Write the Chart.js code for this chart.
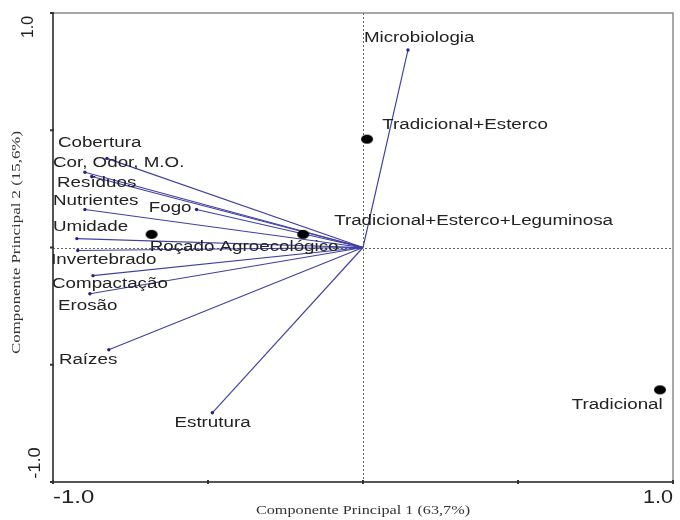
<!DOCTYPE html>
<html><head><meta charset="utf-8">
<script src="https://cdn.jsdelivr.net/npm/chart.js@4"></script>
<style>html,body{margin:0;padding:0;background:#fff}canvas{display:block}</style>
</head><body>
<canvas id="c" width="680" height="520"></canvas>
<script>
// Variable loadings (arrow tips)
const variableNames = ['Microbiologia','Cobertura','Cor, Odor, M.O.','Resíduos','Nutrientes','Fogo','Umidade','Invertebrado','Compactação','Erosão','Raízes','Estrutura'];
const loadingX = [0.145, -0.826, -0.897, -0.875, -0.897, -0.537, -0.923, -0.920, -0.871, -0.881, -0.820, -0.486];
const loadingY = [0.842, 0.380, 0.321, 0.303, 0.162, 0.162, 0.038, -0.013, -0.120, -0.197, -0.436, -0.705];

// Treatment scores (black dots)
const scoreX = [0.013, -0.682, -0.193, 0.958];
const scoreY = [0.462, 0.056, 0.056, -0.607];

// Text annotations (anchor in data units, left edge / middle)
const labelTexts = ['Microbiologia','Tradicional+Esterco','Tradicional+Esterco+Leguminosa','Roçado Agroecológico','Tradicional','Cobertura','Cor, Odor, M.O.','Resíduos','Nutrientes','Fogo','Umidade','Invertebrado','Compactação','Erosão','Raízes','Estrutura'];
const labelX = [0.003, 0.062, -0.093, -0.688, 0.673, -0.984, -1.0, -0.987, -1.0, -0.691, -1.0, -1.006, -1.003, -0.984, -0.981, -0.608];
const labelY = [0.893, 0.521, 0.111, 0.000, -0.671, 0.444, 0.359, 0.273, 0.197, 0.167, 0.085, -0.056, -0.158, -0.252, -0.479, -0.748];

// Axes
const xTickValues = [-1, -0.5, 0, 0.5, 1];
const yTickValues = [-1, -0.5, 0, 0.5, 1];
const xTickLabels = ['-1.0', '1.0'];
const yTickLabels = ['-1.0', '1.0'];
const xTitle = 'Componente Principal 1 (63,7%)';
const yTitle = 'Componente Principal 2 (15,6%)';

const LINE = '#4040a2';

// ellipse dot image for treatment points
const dot = document.createElement('canvas');
dot.width = 14; dot.height = 11;
(function(){const g=dot.getContext('2d');g.fillStyle='#000';g.beginPath();g.ellipse(7,5.5,6,4.6,0,0,Math.PI*2);g.fill();})();

const datasets = [];
variableNames.forEach((n,i)=>{
  datasets.push({
    label: n,
    data: [{x:0,y:0},{x:loadingX[i],y:loadingY[i]}],
    showLine: true,
    borderColor: LINE,
    borderWidth: 1.15,
    pointRadius: [0, 1.7],
    pointBackgroundColor: '#22228a',
    pointBorderWidth: 0,
    order: 2
  });
});
datasets.push({
  label: 'Tratamentos',
  data: scoreX.map((x,i)=>({x, y: scoreY[i]})),
  showLine: false,
  pointStyle: dot,
  pointRadius: 6,
  order: 1
});

function stretchText(ctx, txt, px, py, font, sx, align, rot) {
  ctx.save();
  ctx.translate(px, py);
  if (rot) ctx.rotate(rot);
  ctx.scale(sx, 1);
  ctx.font = font;
  ctx.textAlign = align;
  ctx.textBaseline = 'middle';
  ctx.fillText(txt, 0, 0);
  ctx.restore();
}

const framePlugin = {
  id: 'frame',
  beforeDatasetsDraw(chart) {
    const {ctx, chartArea: a, scales: {x, y}} = chart;
    ctx.save();
    ctx.strokeStyle = '#666';
    ctx.lineWidth = 1;
    ctx.setLineDash([2, 2]);
    const x0 = Math.round(x.getPixelForValue(0)) + 0.5;
    const y0 = Math.round(y.getPixelForValue(0)) + 0.5;
    ctx.beginPath();
    ctx.moveTo(x0, a.top); ctx.lineTo(x0, a.bottom);
    ctx.moveTo(a.left, y0); ctx.lineTo(a.right, y0);
    ctx.stroke();
    ctx.restore();
  },
  afterDatasetsDraw(chart) {
    const {ctx, chartArea: a, scales: {x, y}} = chart;
    ctx.save();
    // top and right border
    ctx.strokeStyle = '#8a8a8a';
    ctx.lineWidth = 1.5;
    ctx.beginPath();
    ctx.moveTo(a.left, a.top); ctx.lineTo(a.right, a.top); ctx.lineTo(a.right, a.bottom);
    ctx.stroke();
    // left and bottom axis
    ctx.strokeStyle = '#555';
    ctx.lineWidth = 2;
    ctx.beginPath();
    ctx.moveTo(a.left, a.top); ctx.lineTo(a.left, a.bottom); ctx.lineTo(a.right, a.bottom);
    ctx.stroke();
    // tick marks
    ctx.lineWidth = 2;
    ctx.strokeStyle = '#333';
    ctx.beginPath();
    xTickValues.forEach(v => { const px = x.getPixelForValue(v); ctx.moveTo(px, a.bottom - 2); ctx.lineTo(px, a.bottom + 2); });
    yTickValues.forEach(v => { const py = y.getPixelForValue(v); ctx.moveTo(a.left - 3, py); ctx.lineTo(a.left + 1, py); });
    ctx.stroke();

    ctx.fillStyle = '#222';
    // tick labels
    stretchText(ctx, xTickLabels[0], x.getPixelForValue(-1), a.bottom + 16, '18px "Liberation Sans", Arial, sans-serif', 1.33, 'left');
    stretchText(ctx, xTickLabels[1], x.getPixelForValue(1), a.bottom + 16, '18px "Liberation Sans", Arial, sans-serif', 1.2, 'right');
    stretchText(ctx, yTickLabels[1], a.left - 24, y.getPixelForValue(1) + 14, '16px "Liberation Sans", Arial, sans-serif', 1.0, 'center', -Math.PI/2);
    stretchText(ctx, yTickLabels[0], a.left - 17, y.getPixelForValue(-1) - 19, '16px "Liberation Sans", Arial, sans-serif', 1.15, 'center', -Math.PI/2);
    // axis titles
    ctx.fillStyle = '#333';
    stretchText(ctx, xTitle, (a.left + a.right) / 2, a.bottom + 29, '12px "Liberation Serif", "Times New Roman", serif', 1.35, 'center');
    stretchText(ctx, yTitle, 17, (a.top + a.bottom) / 2 - 5, '12.5px "Liberation Serif", "Times New Roman", serif', 1.35, 'center', -Math.PI/2);

    // annotations
    ctx.fillStyle = '#222';
    labelTexts.forEach((t, i) => {
      stretchText(ctx, t, x.getPixelForValue(labelX[i]), y.getPixelForValue(labelY[i]), '14px "Liberation Sans", Arial, sans-serif', 1.34, 'left');
    });
    ctx.restore();
  }
};

new Chart(document.getElementById('c'), {
  type: 'scatter',
  data: { datasets },
  options: {
    responsive: false,
    animation: false,
    layout: { padding: { left: 53, right: 5, top: 13, bottom: 38 } },
    scales: {
      x: { type: 'linear', min: -1, max: 1, display: false },
      y: { type: 'linear', min: -1, max: 1, display: false }
    },
    plugins: { legend: { display: false }, tooltip: { enabled: false } }
  },
  plugins: [framePlugin]
});
</script>
</body></html>
